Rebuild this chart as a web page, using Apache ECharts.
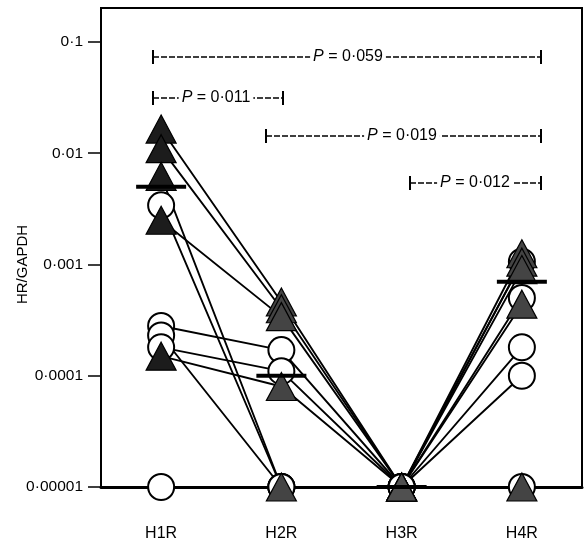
<!DOCTYPE html>
<html>
<head>
<meta charset="utf-8">
<script src="https://cdn.jsdelivr.net/npm/echarts@6/dist/echarts.min.js"></script>
<style>
  html, body { margin: 0; background: #fff; }
  #chart { width: 585px; height: 543px; }
</style>
</head>
<body>
<div id="chart"></div>
<script>
const categories = ['H1R', 'H2R', 'H3R', 'H4R'];
const yTickLabels = ['0·00001', '0·0001', '0·001', '0·01', '0·1'];

// one row per patient: H1R, H2R, H3R, H4R
const triangleSubjects = [
    [0.0165, 0.00046, 0.00001, 0.00125],
    [0.011, 0.0004, 0.00001, 0.00105],
    [0.0062, 0.00001, 0.00001, 0.0009],
    [0.0025, 0.00034, 0.00001, 0.00044],
    [0.00015, 0.00008, 0.00001, 0.00001]
];
const circleSubjects = [
    [0.0034, 0.00001, 0.00001, 0.00106],
    [0.00028, 0.00017, 0.00001, 0.0005],
    [0.00023, 0.00001, 0.00001, 0.00018],
    [0.00018, 0.00011, 0.00001, 0.0001],
    [0.00001, 0.00001, 0.00001, 0.00001]
];
const medians = [0.005, 0.0001, 0.00001, 0.0007];
const pValues = ['0·059', '0·011', '0·019', '0·012'];

// bracket layout in pixels: x1, x2, y, text centre x
const bracketLayout = [
    [153, 541, 57, 348],
    [153, 283, 98, 216],
    [266, 541, 136, 402],
    [410, 541, 183, 475]
];

const FONT = '"Liberation Sans", Arial, Helvetica, sans-serif';
// the scan prints the H1R triangles darker than the others
const triangleFill = ['#1c1c1c', '#444', '#505050', '#444'];

const chart = echarts.init(document.getElementById('chart'));

const lineSeries = triangleSubjects.concat(circleSubjects).map(row => ({
    type: 'line',
    data: row,
    symbol: 'none',
    clip: false,
    silent: true,
    lineStyle: { color: '#000', width: 1.9 },
    z: 2
}));

const bracketGraphics = [];
bracketLayout.forEach((b, k) => {
    const [x1, x2, y, tx] = b;
    bracketGraphics.push({
        type: 'line', shape: { x1: x1, y1: y, x2: x2, y2: y },
        style: { stroke: '#000', lineWidth: 1.4, lineDash: [6, 2] }
    });
    bracketGraphics.push({
        type: 'line', shape: { x1: x1, y1: y - 7, x2: x1, y2: y + 7 },
        style: { stroke: '#000', lineWidth: 2 }
    });
    bracketGraphics.push({
        type: 'line', shape: { x1: x2, y1: y - 7, x2: x2, y2: y + 7 },
        style: { stroke: '#000', lineWidth: 2 }
    });
    bracketGraphics.push({
        type: 'text', x: tx, y: y,
        style: {
            text: '{i|P} = ' + pValues[k],
            align: 'center', verticalAlign: 'middle',
            fontSize: 16, fontFamily: FONT, fill: '#000',
            backgroundColor: '#fff', padding: [0, 3],
            rich: { i: { fontStyle: 'italic', fontSize: 16, fontFamily: FONT } }
        }
    });
});

chart.setOption({
    animation: false,
    backgroundColor: '#fff',
    grid: { left: 101, right: 3, top: 42, bottom: 56, containLabel: false, outerBoundsMode: 'none' },
    xAxis: {
        type: 'category',
        data: categories,
        boundaryGap: true,
        axisLine: { onZero: false, lineStyle: { color: '#000', width: 3 } },
        axisTick: { alignWithLabel: true, length: 28, lineStyle: { color: '#000', width: 1.5 } },
        axisLabel: { margin: 39, fontSize: 16, color: '#000', fontFamily: FONT },
        splitLine: { show: false }
    },
    yAxis: {
        type: 'log',
        logBase: 10,
        min: 0.00001,
        max: 0.1,
        name: 'HR/GAPDH',
        nameLocation: 'middle',
        nameRotate: 90,
        nameGap: 71,
        nameMoveOverlap: false,
        nameTextStyle: { fontSize: 15, color: '#000', fontFamily: FONT },
        axisLine: { show: true, lineStyle: { color: '#000', width: 2 } },
        axisTick: { show: true, length: 13, lineStyle: { color: '#000', width: 1.5 } },
        axisLabel: {
            margin: 18, fontSize: 15.5, color: '#000', fontFamily: FONT,
            formatter: v => yTickLabels[Math.round(Math.log10(v)) + 5]
        },
        splitLine: { show: false },
        minorTick: { show: false }
    },
    graphic: [
        {
            type: 'polyline',
            shape: { points: [[101, 43], [101, 8], [582, 8], [582, 487]] },
            style: { stroke: '#000', lineWidth: 2, fill: null }
        }
    ].concat(bracketGraphics),
    series: lineSeries.concat([
        {
            type: 'scatter',
            data: circleSubjects.flatMap(r => r.map((v, i) => [i, v])),
            symbol: 'circle',
            symbolSize: 26,
            clip: false,
            itemStyle: { color: '#fff', borderColor: '#000', borderWidth: 2, opacity: 1 },
            z: 3
        },
        {
            type: 'scatter',
            data: triangleSubjects.flatMap(r => r.map((v, i) => ({
                value: [i, v],
                itemStyle: { color: triangleFill[i] }
            }))),
            symbol: 'triangle',
            symbolSize: [30, 28],
            clip: false,
            itemStyle: { borderColor: '#000', borderWidth: 1.2, opacity: 1 },
            z: 4
        },
        {
            type: 'scatter',
            data: medians.map((v, i) => [i, v]),
            symbol: 'rect',
            symbolSize: [50, 4],
            clip: false,
            itemStyle: { color: '#000', opacity: 1 },
            z: 5
        }
    ])
});
</script>
</body>
</html>
